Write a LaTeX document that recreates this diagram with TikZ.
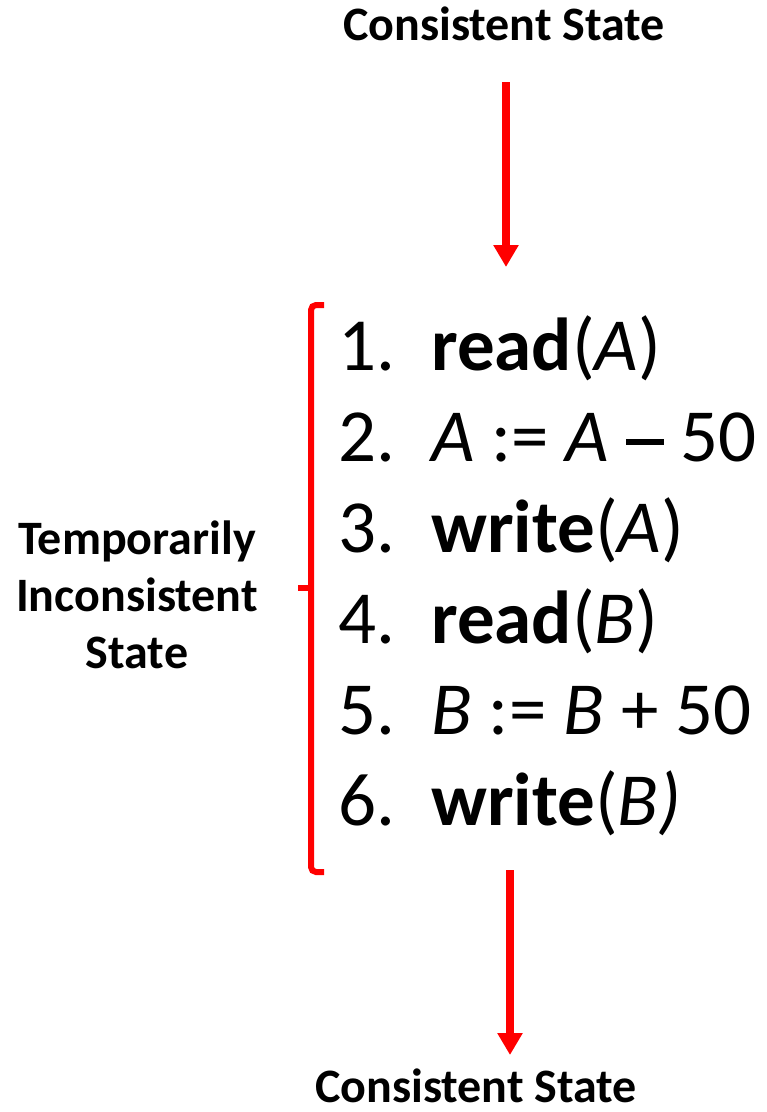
\documentclass[tikz,border=0pt]{standalone}
\usepackage{fontspec}
\setmainfont{Carlito}
\usetikzlibrary{arrows.meta}
\definecolor{pptred}{HTML}{FF0000}
\newcommand{\longminus}{\rule[0.215em]{0.5em}{0.075em}}
\tikzset{
  lbl/.style={font=\fontsize{48}{57}\selectfont\bfseries, inner sep=0pt, align=center},
  num/.style={font=\fontsize{75}{90}\selectfont, inner sep=0pt, anchor=base west},
  stmt/.style={font=\fontsize{75}{90}\selectfont, inner sep=0pt, anchor=base west},
  redarrow/.style={draw=pptred, line width=8pt, -{Triangle[width=24pt,length=22pt]}},
  bracketline/.style={draw=pptred, line width=6pt}
}
\begin{document}
\begin{tikzpicture}[x=1pt,y=-1pt]
\useasboundingbox (0,0) rectangle (767,1112);
% labels
\node[lbl, anchor=base] (top) at (504,40) {Consistent State};
\node[lbl, anchor=base] (bottom) at (476,1102) {Consistent State};
\node[lbl, anchor=base] (temp) at (137,668) {Temporarily\\Inconsistent\\State};
% arrows
\coordinate (a1s) at (506,82);
\coordinate (a1e) at (506,267);
\coordinate (a2s) at (510,870);
\coordinate (a2e) at (510,1055);
\draw[redarrow] (a1s) -- (a1e);
\draw[redarrow] (a2s) -- (a2e);
% bracket
\coordinate (bt) at (324,305);
\coordinate (bb) at (324,872);
\coordinate (btl) at (311,305);
\coordinate (bbl) at (311,872);
\coordinate (bm) at (311,588);
\coordinate (bmt) at (298,588);
\draw[bracketline, rounded corners=5pt] (bt) -- (btl) -- (bbl) -- (bb);
\draw[bracketline] (bmt) -- (bm);
% statements
\node[num] (n1) at (338,370) {1.};
\node[stmt] (s1) at (431,370) {\textbf{read}(\textit{A})};
\node[num] (n2) at (338,461) {2.};
\node[stmt] (s2) at (431,461) {\textit{A} := \textit{A} \longminus{} 50};
\node[num] (n3) at (338,552) {3.};
\node[stmt] (s3) at (431,552) {\textbf{write}(\textit{A})};
\node[num] (n4) at (338,643) {4.};
\node[stmt] (s4) at (431,643) {\textbf{read}(\textit{B})};
\node[num] (n5) at (338,734) {5.};
\node[stmt] (s5) at (431,734) {\textit{B} := \textit{B} + 50};
\node[num] (n6) at (338,825) {6.};
\node[stmt] (s6) at (431,825) {\textbf{write}(\textit{B)}};
\end{tikzpicture}
\end{document}
